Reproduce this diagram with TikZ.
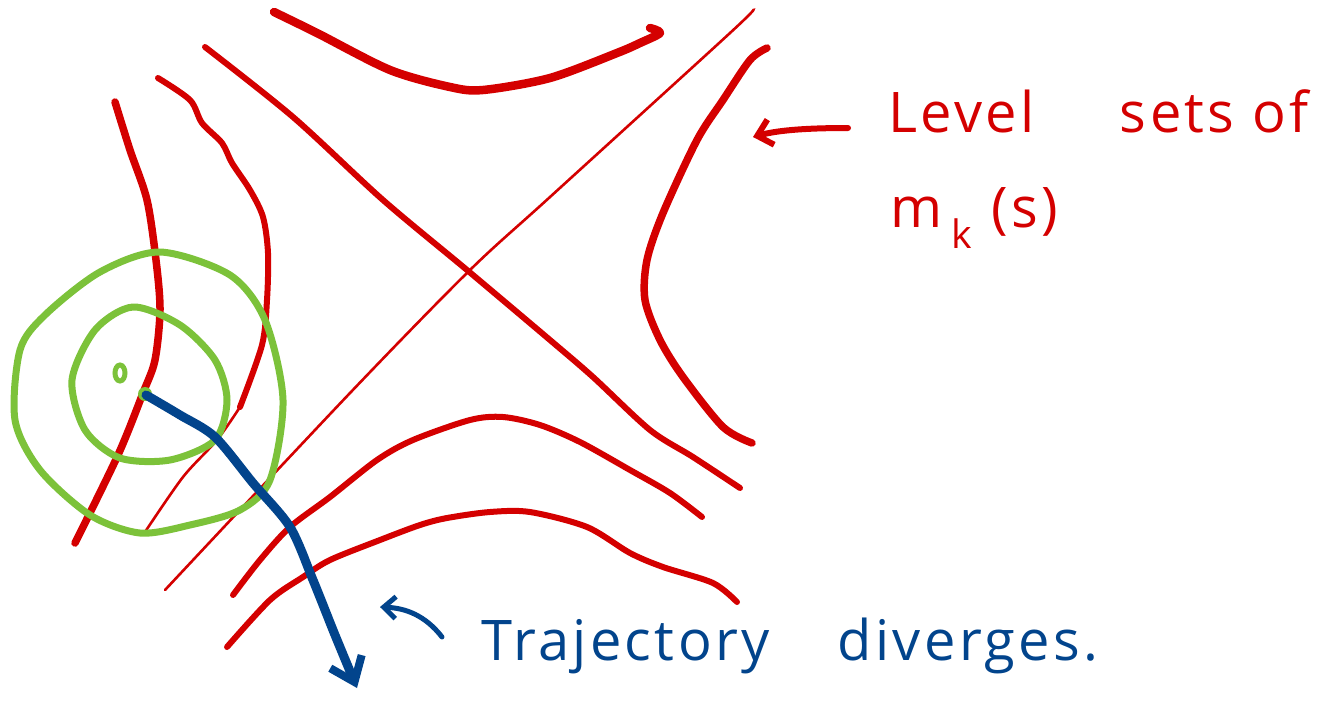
\documentclass[tikz,border=0pt]{standalone}
\usepackage{fontspec}
\setmainfont{Open Sans}
\usepackage{tikz}
\usetikzlibrary{arrows.meta}
\definecolor{setRed}{RGB}{212,0,0}
\definecolor{ringGreen}{RGB}{124,194,58}
\definecolor{trajBlue}{RGB}{2,68,140}

\begin{document}
\begin{tikzpicture}[x=1pt, y=-1pt,
    levelset/.style={setRed, line width=7.5pt, line cap=round, line join=round},
    thinset/.style={setRed, line width=2.6pt, line cap=round},
    ring/.style={ringGreen, line width=7pt},
    traj/.style={trajBlue, line width=9pt, line cap=round},
    hand/.style={anchor=base west, font=\fontsize{56}{60}\selectfont\addfontfeature{LetterSpace=6}}]
  \useasboundingbox (0,0) rectangle (1341,702);

  % level sets, left side
  \draw[levelset] plot[smooth] coordinates {
    (115,102)(130,150)(147,200)(156,260)(160,310)(155,360)(143,393)(118,455)(75,543)};
  \draw[levelset, line width=6pt] plot[smooth] coordinates {
    (158,78)(190,100)(202,123)(222,143)(232,163)(250,190)(263,217)(268,253)(267,300)(262,345)(240,407)};
  \draw[thinset] plot[smooth] coordinates {(240,407)(217,440)(183,477)(145,532)};

  % the two crossing lines
  \draw[levelset, line width=6pt] plot[smooth] coordinates {
    (205,47)(293,117)(383,200)(467,270)(550,340)(593,377)(650,430)(693,457)(740,488)};
  \draw[thinset] plot[smooth] coordinates {
    (753,10)(730,33)(550,197)(470,270)(350,393)(165,590)};

  % top and right
  \draw[levelset, line width=8.5pt] plot[smooth] coordinates {
    (274,12)(317,33)(390,70)(450,87)(483,90)(550,78)(617,53)(640,43)(660,33)(650,28)};
  \draw[levelset] plot[smooth] coordinates {
    (767,48)(750,60)(723,100)(697,140)(663,213)(647,260)(645,300)(660,340)(683,377)(723,427)(752,443)};

  % bottom
  \draw[levelset, line width=6pt] plot[smooth] coordinates {
    (233,595)(260,560)(290,527)(330,497)(377,460)(413,440)(470,420)(503,417)(540,425)(580,442)(630,470)(670,493)(702,517)};
  \draw[levelset, line width=6pt] plot[smooth] coordinates {
    (227,647)(270,600)(303,577)(330,560)(380,540)(420,525)(447,518)(490,512)(530,512)(587,527)(630,553)(663,567)(713,583)(737,602)};

  % green rings round the start point
  \draw[ring] plot[smooth cycle] coordinates {
    (160,252)(230,275)(265,320)(283,400)(270,480)(240,510)(190,525)(140,533)(90,515)(40,470)(15,420)(20,350)(45,315)(100,272)};
  \draw[ring] plot[smooth cycle] coordinates {
    (133,307)(180,325)(215,360)(227,400)(215,440)(170,460)(120,458)(85,430)(72,380)(95,330)};
  \draw[ring, line width=5pt] (120,373) ellipse (5 and 8);
  \fill[ringGreen] (145,394) circle (7);

  % trajectory
  \coordinate (start) at (146,395);
  \coordinate (finish) at (357,688);
  \draw[traj, -{Straight Barb[length=22pt, width=34pt, line width=8pt]}] plot[smooth] coordinates {
    (start)(180,415)(215,437)(253,483)(290,527)(313,580)(335,635)(finish)};

  % labels
  \node[hand, setRed] (lvltext) at (885,132) {Level\hspace{85pt}sets of};
  \node[hand, setRed] (mktext) at (887,227) {m\,\textsubscript{k}\,\,(s)};
  \node[hand, trajBlue] (divtext) at (478,660) {Trajectory\hspace{68pt}diverges.};

  \coordinate (lvltail) at (848,128);
  \coordinate (lvlhead) at (753,137);
  \draw[setRed, line width=6pt, line cap=round, -{Straight Barb[length=14pt, width=26pt]}]
    (lvltail) .. controls (800,128) and (775,131) .. (lvlhead);
  \coordinate (divtail) at (442,637);
  \coordinate (divhead) at (380,607);
  \draw[trajBlue, line width=5pt, line cap=round, -{Straight Barb[length=12pt, width=22pt]}]
    (divtail) .. controls (425,615) and (405,608) .. (divhead);
\end{tikzpicture}
\end{document}
